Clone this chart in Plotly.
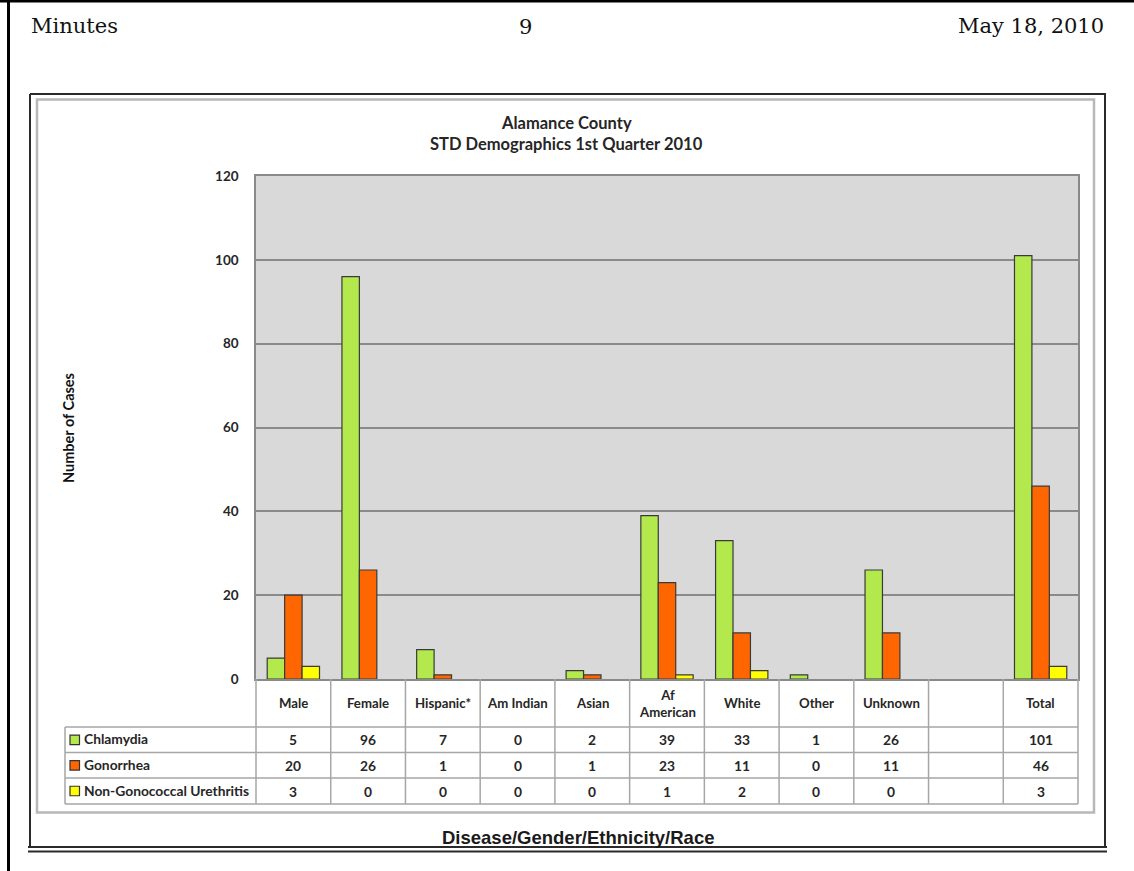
import plotly.graph_objects as go

# ---------------- data ----------------
categories = ["Male", "Female", "Hispanic*", "Am Indian", "Asian", "Af<br>American",
              "White", "Other", "Unknown", "", "Total"]
chlamydia = [5, 96, 7, 0, 2, 39, 33, 1, 26, None, 101]
gonorrhea = [20, 26, 1, 0, 1, 23, 11, 0, 11, None, 46]
ngu = [3, 0, 0, 0, 0, 1, 2, 0, 0, None, 3]
series_names = ["Chlamydia", "Gonorrhea", "Non-Gonococcal Urethritis"]
series_values = [chlamydia, gonorrhea, ngu]
series_colors = ["#b4e94e", "#ff6600", "#ffff00"]
y_ticks = [0, 20, 40, 60, 80, 100, 120]

title_lines = ["Alamance County", "STD Demographics 1st Quarter 2010"]
y_title = "Number of Cases"
x_title = "Disease/Gender/Ethnicity/Race"
header_left, header_mid, header_right = "Minutes", "9", "May 18, 2010"

# ---------------- layout geometry ----------------
W, H = 1134, 871
L, R, T, B = 256, 1078, 176, 679          # plot area in pixels
PW, PH = R - L, B - T


def px(X):
    return (X - L) / PW


def py(Y):
    return (B - Y) / PH


BODY_FONT = "Lato"
TXT = "#262626"
GRID = "#8a8a8a"
TBL = "#a6a6a6"
CELL_SIZE = 13.8

x_idx = list(range(len(categories)))

fig = go.Figure()
for name, vals, col in zip(series_names, series_values, series_colors):
    fig.add_trace(go.Bar(
        x=x_idx, y=vals, name=name,
        marker=dict(color=col,
                    line=dict(color="#3a3a3a", width=[1.2 if v else 0 for v in vals])),
        showlegend=False,
    ))

shapes = []
annotations = []

# --- page decorations ---
shapes.append(dict(type="line", xref="paper", yref="paper", x0=px(0), x1=px(W), y0=py(1), y1=py(1),
                   line=dict(color="#000", width=3)))
shapes.append(dict(type="line", xref="paper", yref="paper", x0=px(8.5), x1=px(8.5), y0=py(0), y1=py(H),
                   line=dict(color="#000", width=3)))
# outer chart box
for (x0, y0, x1, y1) in [(30, 94, 1106, 94), (30, 94, 30, 848), (1105, 94, 1105, 848),
                         (28, 847, 1107, 847), (28, 851.5, 1107, 851.5)]:
    shapes.append(dict(type="line", xref="paper", yref="paper", x0=px(x0), x1=px(x1),
                       y0=py(y0), y1=py(y1), line=dict(color="#2a2a2a", width=2)))
# inner chart frame
shapes.append(dict(type="rect", xref="paper", yref="paper", x0=px(37), x1=px(1094),
                   y0=py(99.5), y1=py(812.5), line=dict(color="#b8b8b8", width=2.5)))

# --- data table ---
ncat = len(categories)
row_lines = [727, 752.5, 778, 804]
for Y in row_lines:
    shapes.append(dict(type="line", xref="paper", yref="paper", x0=px(65), x1=1,
                       y0=py(Y), y1=py(Y), line=dict(color=TBL, width=1.5)))
for k in range(ncat + 1):
    shapes.append(dict(type="line", xref="paper", yref="paper", x0=k / ncat, x1=k / ncat,
                       y0=py(679), y1=py(804), line=dict(color=TBL, width=1.5)))
shapes.append(dict(type="line", xref="paper", yref="paper", x0=px(65), x1=px(65),
                   y0=py(727), y1=py(804), line=dict(color=TBL, width=1.5)))

# header labels
for i, c in enumerate(categories):
    if c:
        annotations.append(dict(xref="paper", yref="paper", x=(i + 0.5) / ncat, y=py(703),
                                text=c, showarrow=False, xanchor="center", yanchor="middle",
                                font=dict(family=BODY_FONT, size=CELL_SIZE - 0.6, color=TXT,
                                          weight="bold")))

row_centers = [739.8, 765.3, 791]
for r, (name, vals, col) in enumerate(zip(series_names, series_values, series_colors)):
    yc = row_centers[r]
    shapes.append(dict(type="rect", xref="paper", yref="paper", x0=px(70), x1=px(79.5),
                       y0=py(yc - 4.75), y1=py(yc + 4.75), fillcolor=col,
                       line=dict(color="#333", width=1.2)))
    annotations.append(dict(xref="paper", yref="paper", x=px(82), y=py(yc - 1), text=name,
                            showarrow=False, xanchor="left", yanchor="middle",
                            font=dict(family=BODY_FONT, size=CELL_SIZE, color=TXT, weight="bold")))
    for i, v in enumerate(vals):
        if v is None:
            continue
        annotations.append(dict(xref="paper", yref="paper", x=(i + 0.5) / ncat, y=py(yc),
                                text=str(v), showarrow=False, xanchor="center", yanchor="middle",
                                font=dict(family=BODY_FONT, size=CELL_SIZE, color=TXT,
                                          weight="bold")))

# --- titles ---
annotations.append(dict(xref="paper", yref="paper", x=px(566), y=py(123), text=title_lines[0],
                        showarrow=False, xanchor="center", yanchor="middle",
                        font=dict(family=BODY_FONT, size=16.5, color=TXT, weight="bold")))
annotations.append(dict(xref="paper", yref="paper", x=px(566), y=py(144), text=title_lines[1],
                        showarrow=False, xanchor="center", yanchor="middle",
                        font=dict(family=BODY_FONT, size=16.5, color=TXT, weight="bold")))
annotations.append(dict(xref="paper", yref="paper", x=px(68), y=py(428), text=y_title,
                        showarrow=False, xanchor="center", yanchor="middle", textangle=-90,
                        font=dict(family=BODY_FONT, size=14.5, color="#111", weight="bold")))
annotations.append(dict(xref="paper", yref="paper", x=px(578), y=py(837), text=x_title,
                        showarrow=False, xanchor="center", yanchor="middle",
                        font=dict(family="Liberation Sans", size=18.5, color="#1a1a1a", weight="bold")))

# --- page header ---
SERIF = "DejaVu Serif"
annotations.append(dict(xref="paper", yref="paper", x=px(29), y=py(26), text=header_left,
                        showarrow=False, xanchor="left", yanchor="middle",
                        font=dict(family=SERIF, size=21, color="#111")))
annotations.append(dict(xref="paper", yref="paper", x=px(525), y=py(27), text=header_mid,
                        showarrow=False, xanchor="center", yanchor="middle",
                        font=dict(family=SERIF, size=21, color="#111")))
annotations.append(dict(xref="paper", yref="paper", x=px(1106), y=py(26), text=header_right,
                        showarrow=False, xanchor="right", yanchor="middle",
                        font=dict(family=SERIF, size=21, color="#111")))

fig.update_layout(
    width=W, height=H, autosize=False,
    margin=dict(l=L, r=W - R, t=T, b=H - B, pad=0),
    paper_bgcolor="white", plot_bgcolor="#d9d9d9",
    barmode="group", bargap=0.3, bargroupgap=0,
    shapes=shapes, annotations=annotations,
    xaxis=dict(range=[-0.5, ncat - 0.5], showticklabels=False, ticks="", showgrid=False,
               zeroline=False, showline=True, linecolor=GRID, linewidth=1.5, mirror=True,
               fixedrange=True),
    yaxis=dict(range=[0, 120], tickvals=y_ticks, ticktext=[str(t) for t in y_ticks],
               showgrid=True, gridcolor=GRID, gridwidth=1.5, zeroline=False,
               showline=True, linecolor=GRID, linewidth=1.5, mirror=True, ticks="",
               ticklabelstandoff=13,
               tickfont=dict(family=BODY_FONT, size=13.5, color=TXT, weight="bold"),
               fixedrange=True),
)

fig.write_html("out.html")
